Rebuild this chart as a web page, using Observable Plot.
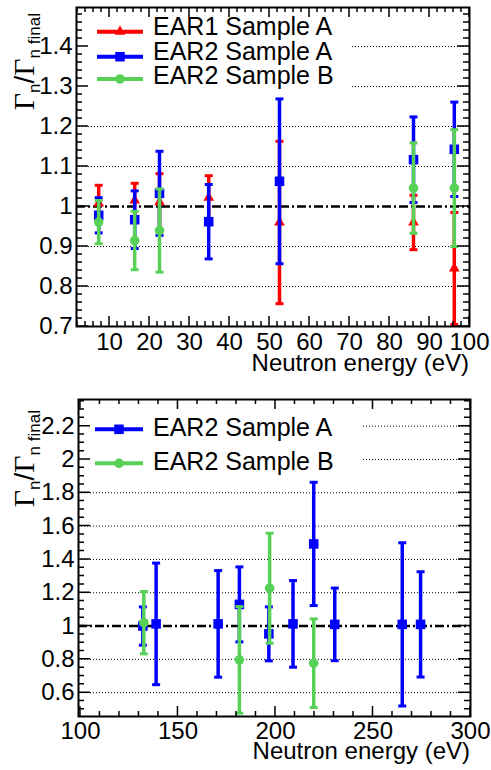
<!DOCTYPE html>
<html><head><meta charset="utf-8">
<script src="https://cdn.jsdelivr.net/npm/d3@7"></script>
<script src="https://cdn.jsdelivr.net/npm/@observablehq/plot@0.6"></script>
<style>
body{margin:0;background:#fff}
#chart{width:491px}
#chart svg{display:block}
</style>
</head><body><div id="chart"></div>
<script>
// ---------- data: top panel (0-100 eV) ----------
const topEnergy      = [7.3, 16.3, 22.5, 34.8, 52.5, 86, 96.2];
const ear1A_top      = [1.008, 1.015, 1.011, 1.022, 0.96, 0.96, 0.845];
const ear1A_topErr   = [0.045, 0.043, 0.071, 0.055, 0.203, 0.068, 0.14];
const ear2A_top      = [0.978, 0.967, 1.033, 0.962, 1.063, 1.117, 1.143];
const ear2A_topErr   = [0.044, 0.072, 0.105, 0.093, 0.206, 0.107, 0.118];
const ear2B_topEnergy= [7.3, 16.3, 22.5, 86, 96.2];
const ear2B_top      = [0.961, 0.915, 0.94, 1.046, 1.046];
const ear2B_topErr   = [0.054, 0.073, 0.104, 0.113, 0.146];

// ---------- data: bottom panel (100-300 eV) ----------
const ear2A_botEnergy= [132, 138.8, 170.6, 181.5, 196.6, 209, 219.6, 230.4, 265, 274.4];
const ear2A_bot      = [1.0, 1.013, 1.013, 1.13, 0.953, 1.013, 1.493, 1.01, 1.01, 1.01];
const ear2A_botErr   = [0.115, 0.365, 0.32, 0.225, 0.162, 0.26, 0.37, 0.218, 0.49, 0.316];
const ear2B_botEnergy= [132.5, 181.5, 197, 219.6];
const ear2B_bot      = [1.02, 0.797, 1.227, 0.777];
const ear2B_botErr   = [0.187, 0.32, 0.33, 0.266];

// ---------- ticks & labels ----------
const topXTicks = [10, 20, 30, 40, 50, 60, 70, 80, 90, 100];
const topYTicks = [0.7, 0.8, 0.9, 1, 1.1, 1.2, 1.3, 1.4];
const botXTicks = [100, 150, 200, 250, 300];
const botYTicks = [0.6, 0.8, 1, 1.2, 1.4, 1.6, 1.8, 2, 2.2];
const seriesNames = ["EAR1 Sample A", "EAR2 Sample A", "EAR2 Sample B"];
const xTitle = "Neutron energy (eV)";
const yTitleParts = ["Γ", "n", "/", "Γ", "n final"];

const RED = "#ff0000", BLUE = "#0000ff", GREEN = "#58d158";
const SANS = "'Liberation Sans', Arial, Helvetica, sans-serif";
const SERIF = "'Liberation Serif', 'DejaVu Serif', serif";

const capSym = {draw(ctx, size) { const w = Math.sqrt(size / Math.PI); ctx.moveTo(-w, 0); ctx.lineTo(w, 0); }};
const fmt = d => String(+(+d).toFixed(2));

function rows(xs, vs, es) { return xs.map((x, i) => ({x, v: vs[i], e: es[i]})); }

function seriesMarks(s) {
  const data = rows(s.x, s.v, s.e);
  return [
    Plot.ruleX(data, {x: "x", y1: d => d.v - d.e, y2: d => d.v + d.e, stroke: s.color, strokeWidth: 3.5, clip: true}),
    Plot.dot(data, {x: "x", y: d => d.v + d.e, symbol: capSym, r: 4, fill: "none", stroke: s.color, strokeWidth: 3, clip: true}),
    Plot.dot(data, {x: "x", y: d => d.v - d.e, symbol: capSym, r: 4, fill: "none", stroke: s.color, strokeWidth: 3, clip: true}),
    Plot.dot(data, {x: "x", y: "v", symbol: s.symbol, r: s.r, fill: s.color, stroke: "none", clip: true})
  ];
}

function frameTicks(xMajor, xMinor, yMajor, yMinor) {
  return (index, scales, values, dims) => {
    const {x, y} = scales;
    const l = dims.marginLeft, r = dims.width - dims.marginRight;
    const t = dims.marginTop, b = dims.height - dims.marginBottom;
    const p = d3.path();
    const vx = (v, L) => { const px = x(v); if (px < l - 0.5 || px > r + 0.5) return; p.moveTo(px, b); p.lineTo(px, b - L); p.moveTo(px, t); p.lineTo(px, t + L); };
    const vy = (v, L) => { const py = y(v); if (py < t - 0.5 || py > b + 0.5) return; p.moveTo(l, py); p.lineTo(l + L, py); p.moveTo(r, py); p.lineTo(r - L, py); };
    xMajor.forEach(v => vx(v, 10)); xMinor.forEach(v => vx(v, 5));
    yMajor.forEach(v => vy(v, 12)); yMinor.forEach(v => vy(v, 6));
    const g = d3.create("svg:path").attr("d", p.toString()).attr("fill", "none").attr("stroke", "#000").attr("stroke-width", 1.5);
    return g.node();
  };
}

function legendMark(box, entries) {
  return () => {
    const g = d3.create("svg:g");
    g.append("rect").attr("x", box.x).attr("y", box.y).attr("width", box.w).attr("height", box.h).attr("fill", "#fff");
    entries.forEach((s, i) => {
      const cy = box.lineY[i];
      g.append("line").attr("x1", box.x1).attr("x2", box.x2).attr("y1", cy).attr("y2", cy)
        .attr("stroke", s.color).attr("stroke-width", 4);
      const type = {square: d3.symbolSquare, circle: d3.symbolCircle, triangle: d3.symbolTriangle}[s.symbol];
      g.append("path").attr("d", d3.symbol(type, Math.PI * s.r * s.r)())
        .attr("transform", `translate(${(box.x1 + box.x2) / 2},${cy})`).attr("fill", s.color);
      g.append("text").attr("x", box.tx).attr("y", box.textY[i]).attr("font-size", 25)
        .attr("text-anchor", "start").attr("font-family", SANS).attr("fill", "#000").text(s.name);
    });
    return g.node();
  };
}

function titles(xBase, yEnd) {
  return (index, scales, values, dims) => {
    const g = d3.create("svg:g").attr("fill", "#000");
    g.append("text").attr("x", dims.width - dims.marginRight).attr("y", xBase)
      .attr("text-anchor", "end").attr("font-size", 24).attr("font-family", SANS).text(xTitle);
    const t = g.append("text").attr("transform", `translate(34,${yEnd}) rotate(-90)`)
      .attr("text-anchor", "end").attr("font-family", SANS);
    t.append("tspan").attr("font-family", SERIF).attr("font-size", 30).text(yTitleParts[0]);
    t.append("tspan").attr("font-size", 17).attr("dy", 6).text(yTitleParts[1]);
    t.append("tspan").attr("font-size", 28).attr("dy", -6).text(yTitleParts[2]);
    t.append("tspan").attr("font-family", SERIF).attr("font-size", 30).text(yTitleParts[3]);
    t.append("tspan").attr("font-size", 17).attr("dy", 6).text(yTitleParts[4]);
    return g.node();
  };
}

function panel(cfg) {
  const grid = cfg.yTicks.filter(v => v !== 1);
  return Plot.plot({
    width: 491, height: cfg.height,
    marginTop: cfg.mt, marginBottom: cfg.mb, marginLeft: cfg.ml, marginRight: cfg.mr,
    x: {domain: cfg.xDomain, axis: null},
    y: {domain: cfg.yDomain, axis: null},
    style: {fontFamily: SANS, fontSize: "24px", background: "#fff", color: "#000", overflow: "visible"},
    marks: [
      Plot.ruleY(grid, {y: d => d, stroke: "#000", strokeWidth: 1, strokeDasharray: "1,2"}),
      legendMark(cfg.legend, cfg.series),
      Plot.ruleY([1], {y: d => d, stroke: "#000", strokeWidth: 2.5, strokeDasharray: "9,3,2,3"}),
      ...cfg.series.flatMap(seriesMarks),
      frameTicks(cfg.xTicks, cfg.xMinor, cfg.yTicks, cfg.yMinor),
      Plot.frame({stroke: "#000", strokeWidth: 2}),
      Plot.axisX(cfg.xTicks, {tickSize: 0, tickPadding: cfg.xPad, tickFormat: fmt, label: null, fontSize: 24}),
      Plot.axisY(cfg.yTicks, {tickSize: 0, tickPadding: 4, tickFormat: fmt, label: null, fontSize: 24}),
      titles(cfg.xTitleBase, cfg.yTitleEnd)
    ]
  });
}

const topSeries = [
  {name: seriesNames[0], color: RED,   symbol: "triangle", r: 4,   x: topEnergy, v: ear1A_top, e: ear1A_topErr},
  {name: seriesNames[1], color: BLUE,  symbol: "square",   r: 5.4, x: topEnergy, v: ear2A_top, e: ear2A_topErr},
  {name: seriesNames[2], color: GREEN, symbol: "circle",   r: 4.8, x: ear2B_topEnergy, v: ear2B_top, e: ear2B_topErr}
];
const botSeries = [
  {name: seriesNames[1], color: BLUE,  symbol: "square", r: 5.4, x: ear2A_botEnergy, v: ear2A_bot, e: ear2A_botErr},
  {name: seriesNames[2], color: GREEN, symbol: "circle", r: 4.8, x: ear2B_botEnergy, v: ear2B_bot, e: ear2B_botErr}
];

const topPlot = panel({
  height: 378, mt: 7, mb: 52, ml: 76, mr: 22,
  xDomain: [1.75, 100], yDomain: [0.7, 1.4975],
  xTicks: topXTicks, xMinor: d3.range(2, 100.01, 2),
  yTicks: topYTicks, yMinor: d3.range(0.7, 1.5, 0.02),
  xPad: 6, xTitleBase: 371, yTitleEnd: 13,
  series: topSeries,
  legend: {x: 77, y: 8, w: 273, h: 87, x1: 97, x2: 143, tx: 153, lineY: [31.7, 56.7, 79], textY: [35.3, 59.6, 83.8]}
});
const botPlot = panel({
  height: 392, mt: 21, mb: 54, ml: 78, mr: 21,
  xDomain: [99, 300], yDomain: [0.457, 2.36],
  xTicks: botXTicks, xMinor: d3.range(100, 300.01, 10),
  yTicks: botYTicks, yMinor: d3.range(0.5, 2.36, 0.05),
  xPad: 5, xTitleBase: 381, yTitleEnd: 32,
  series: botSeries,
  legend: {x: 79, y: 22, w: 284, h: 80, x1: 95, x2: 143, tx: 153, lineY: [51.3, 85.3], textY: [58.3, 91.8]}
});
document.getElementById("chart").append(topPlot, botPlot);
</script>
</body></html>
